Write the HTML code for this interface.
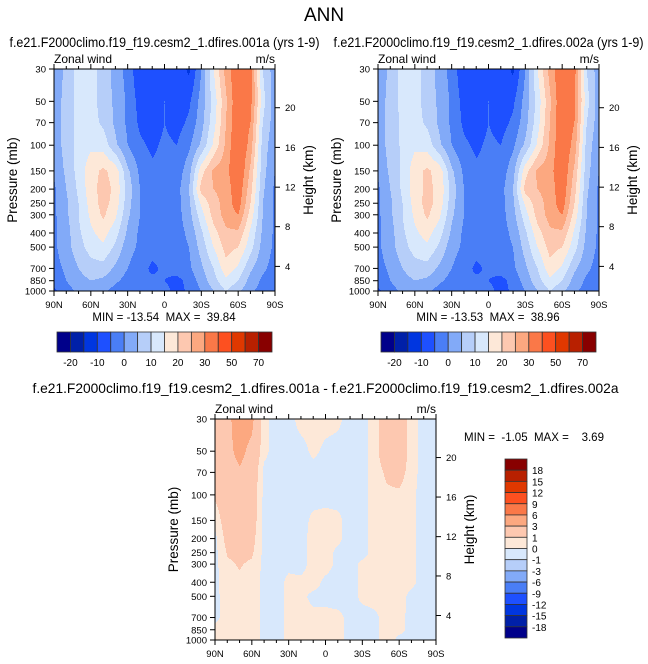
<!DOCTYPE html>
<html><head><meta charset="utf-8"><style>
html,body{margin:0;padding:0;background:#fff;}
svg{display:block;font-family:"Liberation Sans",sans-serif;}
</style></head><body>
<svg id="root" width="648" height="664" viewBox="0 0 648 664" xmlns="http://www.w3.org/2000/svg">
<text x="324" y="21" text-anchor="middle" font-size="19">ANN</text>
</svg>
<script>
// ---- data ----
const lats = [90,80,70,60,50,40,30,20,10,0,-10,-20,-30,-40,-50,-60,-70,-80,-90];
const levels = [30,50,70,100,150,200,250,300,400,500,700,850,1000];
const pTicks = [30,50,70,100,150,200,250,300,400,500,700,850,1000];
const hTicks = [20,16,12,8,4];
const hTickP = [55.3,103.5,194,362,678];
const latTickLabels = ['90N','60N','30N','0','30S','60S','90S'];
const latTickVals = [90,60,30,0,-30,-60,-90];
const mainBounds = [-20,-15,-10,-5,0,5,10,15,20,25,30,40,50,60,70];
const mainBoundLabels = ['-20','-10','0','10','20','30','50','70'];
const diffBounds = [-18,-15,-12,-9,-6,-3,-1,0,1,3,6,9,12,15,18];
const diffBoundLabels = ['18','15','12','9','6','3','1','0','-1','-3','-6','-9','-12','-15','-18'];
const colors = ['#00008a','#0020a8','#0036e0','#1e50ff','#4a7ef6','#82aaf8','#b6cef9','#d8e8fc','#fde8d8','#fdc8b0','#fca880','#fa7848','#fd5020','#e03800','#b82000','#880000'];
const wind001 = [
[2,6,12,12,8,3,-2,-9,-7,-7,-7,-11,0,15,27,35,32,10,2],
[2,7,12,12,8,4,-1,-7,-8,-5,-8,-6,2,12,24,35,32,12,2],
[2,7,12,12,9,4,-1,-6,-8,-5,-7,-4,3,13,25,35,30,10,2],
[2,7,12,14,13,6,0,-4,-6,-4,-5,-1,6,16,26,36,28,8,1],
[1,6,12,18,21,18,6,-1,-4,-4,-3,3,18,26,28,36,24,7,0],
[-1,5,11,18,22,19,8,0,-3,-4,-2,5,22,25,27,34,22,6,-1],
[-1,4,10,17,22,18,7,0,-3,-4,-2,4,16,23,27,33,20,5,-1],
[-1,4,10,16,21,16,6,0,-3,-4,-2,3,13,22,27,30,18,5,-1],
[-1,3,9,14,17,12,4,-1,-3,-4,-2,1,9,18,24,24,14,4,-1],
[-1,3,8,12,14,9,2,-1,-3,-4,-2,0,7,15,22,20,12,3,-1],
[-2,1,5,8,8,4,0,-3,-6,-4,-2,-1,4,10,18,14,6,1,-2],
[-3,0,3,5,4,1,-2,-4,-4,-5,-7,-3,2,8,14,10,3,-1,-2],
[-6,-2,1,2,1,-2,-4,-3,-4,-3,-7,-4,0,5,10,6,1,-2,-3]];
const wind002 = [
[2,6,12,12,8,3,-2,-9,-7,-7,-7,-11,0,15,27,35,32,10,2],
[2,7,12,12,8,4,-1,-7,-8,-5,-8,-6,2,12,24,35,31,12,2],
[2,7,11,12,9,4,-1,-6,-8,-5,-7,-4,3,13,25,35,30,10,2],
[2,7,11,14,13,6,0,-4,-6,-4,-5,-1,6,16,26,35,28,8,1],
[1,6,11,18,21,18,6,-1,-4,-4,-3,3,18,26,28,35,24,7,0],
[-1,5,11,18,21,19,8,0,-3,-4,-2,5,22,25,27,34,22,6,-1],
[-1,4,10,17,22,18,7,0,-3,-4,-2,4,16,23,27,33,20,5,-1],
[-1,4,10,16,21,16,6,0,-3,-4,-2,3,13,22,27,30,18,5,-1],
[-1,3,9,14,17,12,4,-1,-3,-4,-2,1,9,18,24,24,14,4,-1],
[-1,3,8,12,14,9,2,-1,-3,-4,-2,0,7,15,22,20,12,3,-1],
[-2,1,5,8,8,4,0,-3,-6,-4,-2,-1,4,10,18,14,6,1,-2],
[-3,0,3,5,4,1,-2,-4,-4,-5,-7,-3,2,8,14,10,3,-1,-2],
[-6,-2,1,2,1,-2,-4,-3,-4,-3,-7,-4,0,5,10,6,1,-2,-3]];
const windDiff = [
[1.5,2.5,4,3.5,0.3,-0.5,-0.5,0.5,0.5,0.5,0.3,-0.5,-0.5,0.5,2,2,0.5,-0.5,-0.5],
[1.5,2.5,3.5,2.5,0.3,-0.5,-0.5,-0.5,0.3,-0.3,-0.5,-0.5,-0.5,0.5,2,2,0.5,-0.5,-0.5],
[1.5,2.2,2.8,2.2,-0.3,-0.5,-0.5,-0.5,-0.5,-0.5,-0.5,-0.5,-0.5,0.5,1.2,1.5,0.5,-0.5,-0.5],
[1.2,2,2.5,2,-0.3,-0.5,-0.5,-0.5,-0.5,-0.5,-0.5,-0.5,-0.5,0.5,0.8,0.8,0.3,-0.5,-0.5],
[0.3,1.8,2.2,1.8,-0.3,-0.5,-0.5,-0.5,0.3,0.5,0.3,-0.5,-0.5,0.5,0.8,0.6,0.3,-0.5,-0.5],
[-0.3,1.5,1.9,1.5,-0.3,-0.5,-0.5,-0.5,0.5,0.6,0.3,-0.5,-0.5,0.5,0.8,0.6,0.3,-0.5,-0.5],
[-0.3,1.1,1.4,1.2,-0.3,-0.5,-0.5,-0.5,0.5,0.5,-0.3,-0.5,-0.5,0.5,0.8,0.6,0.3,-0.5,-0.5],
[-0.3,0.8,1.1,0.8,-0.3,-0.5,-0.3,-0.5,0.5,0.5,-0.3,-0.5,0.3,0.5,0.8,0.6,0.3,-0.5,-0.5],
[-0.3,0.6,0.8,0.6,-0.3,-0.5,0.3,0.3,0.5,-0.3,-0.5,-0.5,0.3,0.5,0.7,0.5,0.3,-0.5,-0.5],
[-0.3,0.5,0.6,0.5,-0.3,-0.5,0.3,0.3,-0.3,-0.3,-0.5,-0.5,0.3,0.5,0.6,0.4,-0.3,-0.5,-0.5],
[-0.3,0.5,0.5,0.5,-0.3,-0.5,0.3,0.3,0.3,0.3,0.3,-0.3,-0.5,-0.3,0.5,0.3,-0.3,-0.5,-0.5],
[0.3,0.5,0.5,0.5,-0.3,-0.5,0.3,0.3,0.3,0.3,0.3,-0.3,-0.5,-0.3,0.5,0.3,-0.3,-0.5,-0.5],
[0.3,0.5,0.5,0.5,-0.3,-0.5,0.3,0.3,0.3,0.3,0.3,-0.3,-0.5,-0.3,0.5,-0.3,-0.3,-0.5,-0.5]];

const NS='http://www.w3.org/2000/svg';
const root=document.getElementById('root');
function mk(tag,attrs,parent){const e=document.createElementNS(NS,tag);for(const k in attrs)e.setAttribute(k,attrs[k]);(parent||root).appendChild(e);return e;}
function txt(s,attrs,parent){const e=mk('text',attrs,parent);e.textContent=s;return e;}

function colorIdx(v,b){let i=0;while(i<b.length&&v>=b[i])i++;return i;}
function sample(grid,lat,p){
  const step=180/(lats.length-1);
  let fi=(90-lat)/step; fi=Math.max(0,Math.min(lats.length-1-1e-9,fi));
  const i=Math.floor(fi), tx=fi-i;
  const lp=Math.log(p); let j=0;
  while(j<levels.length-2&&Math.log(levels[j+1])<lp)j++;
  let ty=(lp-Math.log(levels[j]))/(Math.log(levels[j+1])-Math.log(levels[j]));
  ty=Math.max(0,Math.min(1,ty));
  const a=grid[j][i],b=grid[j][i+1],c=grid[j+1][i],d=grid[j+1][i+1];
  return (a*(1-tx)+b*tx)*(1-ty)+(c*(1-tx)+d*tx)*ty;
}

function panel(cfg){
  const g=mk('g',{});
  
  
  const {x0,y0,w,h}=cfg;
  const xs=lat=>x0+(90-lat)/180*w;
  const ys=p=>y0+Math.log(p/30)/Math.log(1000/30)*h;
  const yInv=y=>30*Math.pow(1000/30,(y-y0)/h);
  const latInv=x=>90-(x-x0)/w*180;
  const field=mk('g',{},g);
  
  
  for(let r=0;r<h;r++){
    const p=yInv(y0+r+0.5);
    let runStart=0,runC=-1;
    for(let c=0;c<=w;c++){
      let ci=-2;
      if(c<w){ci=colorIdx(sample(cfg.grid,latInv(x0+c+0.5),p),cfg.bounds);}
      if(ci!==runC){
        if(runC>=0){mk('rect',{x:x0+runStart,y:y0+r,width:c-runStart,height:1.02,fill:colors[runC]},field);}
        runStart=c;runC=ci;
      }
    }
  }
  mk('rect',{x:x0,y:y0,width:w,height:h,fill:'none',stroke:'#000','stroke-width':1},g);
  const t=txt(cfg.title,{x:x0+w/2,y:cfg.titleY,'text-anchor':'middle','font-size':14,textLength:cfg.titleLen,lengthAdjust:'spacingAndGlyphs'},g);
  
  
  const zl=txt('Zonal wind',{x:x0,y:y0-6,'font-size':12},g);
  
  
  const ul=txt('m/s',{x:x0+w,y:y0-6,'font-size':12,'text-anchor':'end'},g);
  
  
  pTicks.forEach(p=>{
    const y=ys(p);
    mk('line',{x1:x0-5,x2:x0,y1:y,y2:y,stroke:'#000'},g);
    const l=txt(String(p),{x:x0-8,y:y+3.5,'font-size':9.5,'text-anchor':'end'},g);
    
    
  });
  const pl=txt('Pressure (mb)',{x:0,y:0,'font-size':13.5,'text-anchor':'middle',transform:`translate(${x0-37},${y0+h/2}) rotate(-90)`},g);
  
  
  hTicks.forEach((hk,i)=>{
    const y=ys(hTickP[i]);
    mk('line',{x1:x0+w,x2:x0+w+5,y1:y,y2:y,stroke:'#000'},g);
    const l=txt(String(hk),{x:x0+w+10,y:y+3.5,'font-size':9.5},g);
    
    
  });
  const hl=txt('Height (km)',{x:0,y:0,'font-size':13.5,'text-anchor':'middle',transform:`translate(${x0+w+38},${y0+h/2}) rotate(-90)`},g);
  
  
  for(let lat=90;lat>=-90;lat-=10){
    const x=xs(lat), major=lat%30===0, len=major?5:3;
    mk('line',{x1:x,x2:x,y1:y0,y2:y0-len,stroke:'#000'},g);
    mk('line',{x1:x,x2:x,y1:y0+h,y2:y0+h+len,stroke:'#000'},g);
  }
  latTickVals.forEach((v,i)=>{
    const l=txt(latTickLabels[i],{x:xs(v),y:y0+h+17,'font-size':9.5,'text-anchor':'middle'},g);
    
    
  });
  return g;
}

function hColorbar(x0,y0,w,h,name){
  const g=mk('g',{});
  
  
  const bw=w/colors.length;
  colors.forEach((c,i)=>{mk('rect',{x:x0+i*bw,y:y0,width:bw,height:h,fill:c,stroke:'#333','stroke-width':0.8},g);});
  mainBoundLabels.forEach((s,i)=>{
    const l=txt(s,{x:x0+bw*(1+2*i),y:y0+h+14,'font-size':10,'text-anchor':'middle'},g);
    
    
  });
}

panel({name:'panel-001a',x0:54,y0:69,w:221,h:222,grid:wind001,bounds:mainBounds,
  title:'f.e21.F2000climo.f19_f19.cesm2_1.dfires.001a (yrs 1-9)',titleY:47,titleLen:310});
panel({name:'panel-002a',x0:378,y0:69,w:221,h:222,grid:wind002,bounds:mainBounds,
  title:'f.e21.F2000climo.f19_f19.cesm2_1.dfires.002a (yrs 1-9)',titleY:47,titleLen:310});
panel({name:'panel-difference',x0:215,y0:419,w:221,h:221,grid:windDiff,bounds:diffBounds,
  title:'f.e21.F2000climo.f19_f19.cesm2_1.dfires.001a - f.e21.F2000climo.f19_f19.cesm2_1.dfires.002a',titleY:393,titleLen:586});

const S='\u00a0';
let m=txt('MIN = -13.54'+S+S+'MAX = '+S+'39.84',{x:164,y:321,'font-size':11.5,'text-anchor':'middle'});


m=txt('MIN = -13.53'+S+S+'MAX = '+S+'38.96',{x:488,y:321,'font-size':11.5,'text-anchor':'middle'});


m=txt('MIN = '+S+'-1.05'+S+S+'MAX = '+S+S+' 3.69',{x:464,y:441,'font-size':11.5});



hColorbar(57,332,215,20,'colorbar-001a');
hColorbar(381,332,215,20,'colorbar-002a');

(function(){
  const g=mk('g',{});
  
  
  const x0=505,y0=459,w=22,h=179,bh=h/colors.length;
  colors.slice().reverse().forEach((c,i)=>{mk('rect',{x:x0,y:y0+i*bh,width:w,height:bh,fill:c,stroke:'#333','stroke-width':0.8},g);});
  diffBoundLabels.forEach((s,i)=>{
    const l=txt(s,{x:x0+w+5,y:y0+bh*(i+1)+4,'font-size':10},g);
    
    
  });
})();
</script>
</body></html>
